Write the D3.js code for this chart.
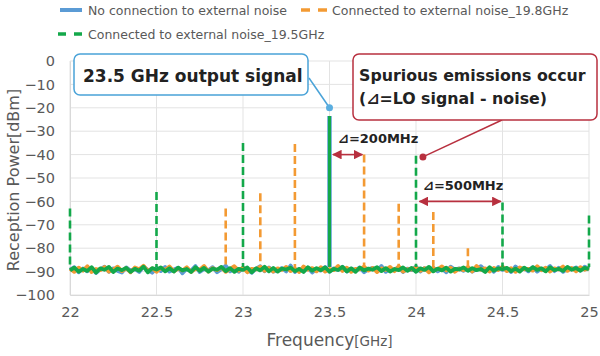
<!DOCTYPE html>
<html><head><meta charset="utf-8">
<script src="https://cdn.jsdelivr.net/npm/d3@7"></script>
<style>body{margin:0;background:#fff}svg{display:block}</style>
</head><body><div id="chart"></div>
<script>
const fStart = 22, fStep = 0.025;
const xTicks = [22, 22.5, 23, 23.5, 24, 24.5, 25];
const yTicks = [0,-10,-20,-30,-40,-50,-60,-70,-80,-90,-100];
const seriesNames = ["No connection to external noise","Connected to external noise_19.8GHz","Connected to external noise_19.5GHz"];
const blueNoise = [-89.2,-88.1,-90.3,-88.7,-89.9,-88.4,-90.6,-89.0,-87.9,-90.1,
-88.6,-89.7,-90.4,-88.2,-89.5,-88.9,-90.2,-87.8,-89.3,-90.5,
-88.5,-89.8,-88.0,-90.0,-89.1,-88.3,-90.7,-88.8,-89.6,-87.6,
-90.2,-88.9,-89.4,-88.1,-90.3,-89.0,-87.5,-89.9,-88.6,-90.1,
-88.4,-89.2,-90.5,-88.7,-87.7,-89.8,-88.2,-90.0,-89.3,-88.5,
-89.9,-87.4,-90.2,-88.8,-89.1,-88.3,-90.4,-88.9,-89.6,-88.0,
-90.1,-88.6,-89.3,-87.9,-90.0,-88.7,-89.5,-88.2,-90.3,-89.0,
-88.4,-89.8,-87.6,-90.1,-88.9,-89.2,-88.1,-90.2,-88.7,-89.4,
-87.8,-90.0,-88.5,-89.6,-88.3,-89.9,-88.8,-90.3,-87.9,-89.1,
-88.6,-89.7,-88.2,-90.0,-88.9,-87.7,-89.5,-88.4,-90.1,-88.0,
-89.3,-88.6,-90.2,-87.8,-89.4,-88.5,-89.9,-88.1,-90.0,-88.7,
-89.2,-87.6,-89.8,-88.3,-90.1,-88.8,-89.0,-88.2,-89.6,-87.9,
-88.9];
const orangeNoise = [-88.8,-90.1,-88.3,-89.6,-87.7,-90.2,-88.9,-89.4,-88.0,-90.0,
-89.1,-87.9,-89.8,-88.5,-90.3,-88.2,-89.0,-87.5,-89.7,-88.6,
-90.1,-88.4,-89.3,-87.8,-89.9,-88.7,-89.5,-88.1,-90.2,-88.8,
-89.2,-87.6,-90.0,-88.5,-89.4,-88.2,-90.1,-88.9,-87.7,-89.6,
-88.3,-90.3,-88.8,-89.1,-87.9,-89.7,-88.4,-90.0,-88.6,-89.3,
-88.0,-89.8,-88.7,-90.2,-87.8,-89.2,-88.5,-89.9,-88.1,-90.0,
-88.9,-89.4,-87.6,-89.7,-88.3,-90.1,-88.8,-89.0,-87.9,-89.6,
-88.4,-90.2,-88.6,-89.3,-88.0,-89.8,-87.7,-90.0,-88.9,-89.1,
-88.2,-89.7,-88.5,-90.3,-88.8,-89.0,-87.8,-89.5,-88.3,-90.1,
-88.7,-89.4,-88.0,-89.9,-87.6,-89.2,-88.6,-90.0,-88.4,-89.3,
-87.9,-89.8,-88.5,-90.1,-88.2,-89.0,-88.8,-89.6,-87.7,-89.4,
-88.3,-90.0,-88.6,-89.1,-87.8,-89.7,-88.4,-89.9,-88.1,-89.2,
-88.5];
const greenNoise = [-89.5,-88.3,-90.0,-88.9,-89.7,-88.1,-90.4,-88.6,-89.2,-88.0,
-90.2,-88.7,-89.4,-88.4,-90.1,-88.8,-89.6,-87.9,-90.3,-88.5,
-89.1,-88.2,-89.9,-88.6,-90.0,-88.3,-89.5,-88.9,-90.2,-88.1,
-89.7,-88.4,-90.0,-88.7,-89.2,-88.0,-89.8,-88.5,-90.1,-88.8,
-89.3,-88.2,-90.3,-88.6,-89.5,-87.9,-89.9,-88.4,-90.0,-88.7,
-89.1,-88.3,-89.8,-88.9,-90.2,-88.1,-89.6,-88.5,-89.4,-88.2,
-90.0,-88.8,-89.3,-88.0,-89.9,-88.6,-90.1,-88.3,-89.5,-88.7,
-89.2,-88.1,-89.8,-88.5,-90.0,-88.9,-89.4,-88.2,-89.7,-88.4,
-90.1,-88.6,-89.3,-88.0,-89.9,-88.7,-89.5,-88.3,-90.0,-88.8,
-89.1,-88.2,-89.7,-88.5,-89.4,-88.9,-90.2,-88.1,-89.6,-88.6,
-89.0,-88.4,-89.8,-88.7,-90.0,-88.3,-89.5,-88.1,-89.3,-88.6,
-89.9,-88.2,-89.4,-88.8,-89.7,-88.0,-89.2,-88.5,-89.6,-88.4,
-89.0];
const signalFreq = 23.5, signalPeak = -23.5;
const orangeSpurFreq = [22.9, 23.1, 23.3, 23.7, 23.9, 24.1, 24.3];
const orangeSpurPeak = [-63, -56.5, -35.5, -40, -61, -64.5, -80];
const greenSpurFreq = [22.0, 22.5, 23.0, 24.0, 24.5, 25.0];
const greenSpurPeak = [-63, -56, -35, -40.5, -60.5, -66];
const colors = ["#5b9bd5", "#f39a33", "#13a84a"];

const W = 600, H = 356;
const m = {l: 70, r: 11, t: 61, b: 61};
const svg = d3.select("#chart").append("svg").attr("width", W).attr("height", H)
  .style("font-family", "'DejaVu Sans', Verdana, sans-serif");
const x = d3.scaleLinear().domain([22, 25]).range([m.l, W - m.r]);
const y = d3.scaleLinear().domain([-100, 0]).range([H - m.b, m.t]);
const grey = "#595959";

// grid
svg.append("g").selectAll("line").data(yTicks).join("line")
  .attr("x1", m.l).attr("x2", W - m.r).attr("y1", d => y(d)).attr("y2", d => y(d))
  .attr("stroke", "#e3e3e3").attr("stroke-width", 1);
svg.append("g").selectAll("line").data(xTicks).join("line")
  .attr("x1", d => x(d)).attr("x2", d => x(d)).attr("y1", y(0)).attr("y2", y(-100))
  .attr("stroke", "#e3e3e3").attr("stroke-width", 1);

// axes
const yAxis = svg.append("g").attr("transform", `translate(${m.l},0)`)
  .call(d3.axisLeft(y).tickValues(yTicks).tickSize(0).tickPadding(15));
const xAxis = svg.append("g").attr("transform", `translate(0,${H - m.b})`)
  .call(d3.axisBottom(x).tickValues(xTicks).tickSize(0).tickPadding(12).tickFormat(d3.format("")));
[yAxis, xAxis].forEach(a => {
  a.select(".domain").attr("stroke", "#d9d9d9");
  a.selectAll("text").attr("fill", grey).style("font-size", "14.5px").style("font-family", "'DejaVu Sans', sans-serif");
});

// axis titles
svg.append("text").attr("transform", `translate(19,${(y(0) + y(-100)) / 2 + 2}) rotate(-90)`)
  .attr("text-anchor", "middle").attr("fill", grey).style("font-size", "16px")
  .text("Reception Power[dBm]");
const xt = svg.append("text").attr("x", (x(22) + x(25)) / 2).attr("y", 346)
  .attr("text-anchor", "middle").attr("fill", grey).style("font-size", "17px");
xt.append("tspan").text("Frequency");
xt.append("tspan").style("font-size", "13.5px").text("[GHz]");

// noise lines
const line = d3.line().x((d, i) => x(fStart + i * fStep)).y(d => y(d));
[blueNoise, orangeNoise, greenNoise].forEach((arr, k) => {
  svg.append("path").attr("d", line(arr)).attr("fill", "none")
    .attr("stroke", colors[k]).attr("stroke-width", 3.8).attr("stroke-linejoin", "round");
});

// spikes
const floor = -88;
function spikes(freqs, peaks, color, dash, width) {
  svg.append("g").selectAll("line").data(freqs).join("line")
    .attr("x1", d => x(d)).attr("x2", d => x(d))
    .attr("y1", (d, i) => y(peaks[i])).attr("y2", y(floor))
    .attr("stroke", color).attr("stroke-width", width)
    .attr("stroke-dasharray", dash);
}
spikes([signalFreq], [signalPeak], colors[0], null, 4.5);
spikes([signalFreq], [signalPeak], colors[1], "8,4", 3);
spikes(orangeSpurFreq, orangeSpurPeak, colors[1], "8,4", 2.6);
spikes(greenSpurFreq, greenSpurPeak, colors[2], "8,4", 2.6);
spikes([signalFreq], [signalPeak], colors[2], null, 3);

// legend
const lg = svg.append("g").style("font-size", "12.5px").attr("fill", grey);
lg.append("line").attr("x1", 60).attr("x2", 82).attr("y1", 10).attr("y2", 10)
  .attr("stroke", colors[0]).attr("stroke-width", 4);
lg.append("text").attr("x", 88).attr("y", 14.5).text(seriesNames[0]);
lg.append("line").attr("x1", 301).attr("x2", 328).attr("y1", 10).attr("y2", 10)
  .attr("stroke", colors[1]).attr("stroke-width", 3.5).attr("stroke-dasharray", "9,8");
lg.append("text").attr("x", 332).attr("y", 14.5).text(seriesNames[1]);
lg.append("line").attr("x1", 58).attr("x2", 84).attr("y1", 34).attr("y2", 34)
  .attr("stroke", colors[2]).attr("stroke-width", 3.5).attr("stroke-dasharray", "8,8");
lg.append("text").attr("x", 88).attr("y", 38.5).text(seriesNames[2]);

// callout 1
const blueC = "#4aa3d8", redC = "#b8303f";
svg.append("line").attr("x1", 309).attr("x2", x(23.5)).attr("y1", 78).attr("y2", y(-20))
  .attr("stroke", blueC).attr("stroke-width", 1.5);
svg.append("circle").attr("cx", x(23.5)).attr("cy", y(-20)).attr("r", 3.5).attr("fill", "#5aaee0");
svg.append("rect").attr("x", 74).attr("y", 54).attr("width", 234).attr("height", 41).attr("rx", 6)
  .attr("fill", "#fff").attr("stroke", blueC).attr("stroke-width", 1.5);
svg.append("text").attr("x", 83).attr("y", 82).attr("fill", "#222")
  .style("font-size", "17px").style("font-weight", "bold").text("23.5 GHz output signal");

// callout 2
svg.append("line").attr("x1", 502).attr("x2", x(24.04)).attr("y1", 120).attr("y2", y(-41))
  .attr("stroke", redC).attr("stroke-width", 1.5);
svg.append("circle").attr("cx", x(24.04)).attr("cy", y(-41)).attr("r", 3.5).attr("fill", redC);
svg.append("rect").attr("x", 353).attr("y", 54).attr("width", 244).attr("height", 66).attr("rx", 6)
  .attr("fill", "#fff").attr("stroke", redC).attr("stroke-width", 1.5);
svg.append("text").attr("x", 359).attr("y", 81).attr("fill", "#222")
  .style("font-size", "15.8px").style("font-weight", "bold").text("Spurious emissions occur");
svg.append("text").attr("x", 359).attr("y", 104).attr("fill", "#222")
  .style("font-size", "15.8px").style("font-weight", "bold").text("(⊿=LO signal - noise)");

// delta arrows
const defs = svg.append("defs");
defs.append("marker").attr("id", "ah").attr("viewBox", "0 0 10 10").attr("refX", 9).attr("refY", 5)
  .attr("markerWidth", 6).attr("markerHeight", 6).attr("orient", "auto-start-reverse")
  .append("path").attr("d", "M0,0 L10,5 L0,10 Z").attr("fill", redC);
function arrow(f1, f2, v) {
  svg.append("line").attr("x1", x(f1)).attr("x2", x(f2)).attr("y1", y(v)).attr("y2", y(v))
    .attr("stroke", redC).attr("stroke-width", 1.6)
    .attr("marker-start", "url(#ah)").attr("marker-end", "url(#ah)");
}
arrow(23.52, 23.69, -40);
arrow(24.02, 24.49, -60);
svg.append("text").attr("x", 338).attr("y", 143).attr("fill", "#222")
  .style("font-size", "13px").style("font-weight", "bold").text("⊿=200MHz");
svg.append("text").attr("x", 423).attr("y", 190).attr("fill", "#222")
  .style("font-size", "13px").style("font-weight", "bold").text("⊿=500MHz");
</script></body></html>
